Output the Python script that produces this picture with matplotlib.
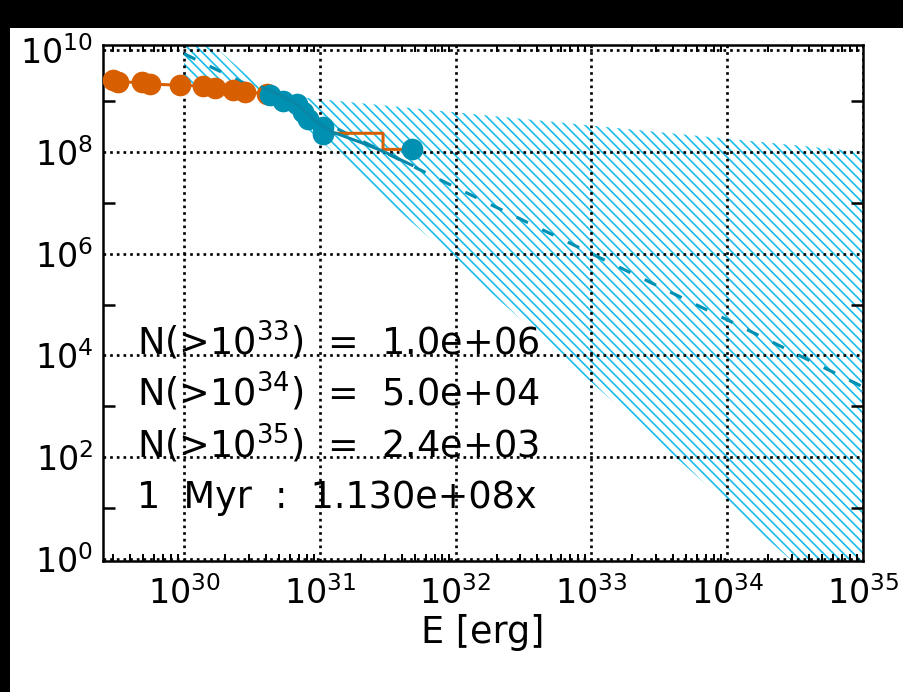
import numpy as np
import matplotlib
matplotlib.use("Agg")
import matplotlib.pyplot as plt
from matplotlib.ticker import FixedLocator, LogLocator, NullFormatter
from matplotlib.patches import Rectangle

plt.rcParams['font.family'] = ['DejaVu Sans']
plt.rcParams['mathtext.fontset'] = 'dejavusans'
plt.rcParams['hatch.linewidth'] = 1.0

# observed flares (orange) and fitted range (blue)
orange_E = [3.0e29, 3.27e29, 4.91e29, 5.62e29, 9.35e29, 1.38e30, 1.69e30, 2.29e30, 2.81e30, 4.08e30]
orange_N = [2.57e9, 2.34e9, 2.34e9, 2.14e9, 2.05e9, 1.95e9, 1.79e9, 1.63e9, 1.49e9, 1.40e9]

blue_E = [4.30e30, 5.36e30, 6.79e30, 7.52e30, 8.18e30, 1.06e31, 1.06e31, 4.78e31]
blue_N = [1.30e9, 9.9e8, 8.65e8, 6.0e8, 4.4e8, 3.05e8, 2.22e8, 1.12e8]

# cumulative histogram tail
step_E = [4.08e30, 1.06e31, 2.92e31, 2.92e31, 4.78e31]
step_N = [1.40e9, 2.32e8, 2.32e8, 1.12e8, 1.12e8]

# fit over blue points
fit_E = [3.75e30, 5.09e30, 6.79e30, 9.23e30, 1.25e31, 1.98e31, 2.92e31, 4.78e31]
fit_N = [1.87e9, 1.30e9, 8.65e8, 4.0e8, 2.43e8, 1.55e8, 1.03e8, 5.45e7]

# power-law extrapolation
pl_E = [1e30, 1e31, 1e32, 1e33, 1e34, 1e35]
pl_N = [8.5e9, 4.2e8, 2.0e7, 1.0e6, 5.0e4, 2.4e3]

# uncertainty band (two bounding power laws crossing at the pivot)
band_E = [1e30, 4.16e30, 1e35]
band_steep = [4.1e10, 1.36e9, 0.052]
band_flat = [1.98e9, 1.36e9, 1.0e8]

ann_lines = [r'N(>$\mathregular{10^{33}}$)  =  1.0e+06',
             r'N(>$\mathregular{10^{34}}$)  =  5.0e+04',
             r'N(>$\mathregular{10^{35}}$)  =  2.4e+03',
             '1  Myr  :  1.130e+08x']

orange = '#d75f00'
blue = '#0090b2'
hatch_c = '#17bde9'

dpi = 120
fig = plt.figure(figsize=(903 / dpi, 692 / dpi), dpi=dpi, facecolor='white')
ax = fig.add_axes([103 / 903, 1 - 561 / 692, 760 / 903, 516 / 692])

fig.patches.append(Rectangle((0, 0), 10 / 903, 1, transform=fig.transFigure,
                             facecolor='black', edgecolor='none', zorder=0))
fig.patches.append(Rectangle((0, 1 - 28 / 692), 1, 28 / 692, transform=fig.transFigure,
                             facecolor='black', edgecolor='none', zorder=0))

ax.set_xscale('log')
ax.set_yscale('log')
ax.set_xlim(2.53e29, 1e35)
ax.set_ylim(0.91, 1.26e10)

ax.fill_between(band_E, band_steep, band_flat, facecolor='none', edgecolor=hatch_c,
                hatch='\\\\\\\\', linewidth=0, zorder=1)

ax.plot(pl_E, pl_N, color=blue, lw=1.9, linestyle=(0, (4, 5)), zorder=3)
ax.plot(orange_E + step_E[1:], orange_N + step_N[1:], color=orange, lw=1.8, zorder=3)
ax.plot(orange_E, orange_N, 'o', color=orange, ms=13, mec='none', zorder=4)
ax.plot(blue_E, blue_N, 'o', color=blue, ms=13, mec='none', zorder=5)
ax.plot(fit_E, fit_N, color='#0a86a6', lw=1.8, zorder=6)

# axes styling, IDL-like
ax.xaxis.set_major_locator(FixedLocator([1e30, 1e31, 1e32, 1e33, 1e34, 1e35]))
ax.xaxis.set_minor_locator(LogLocator(base=10, subs=np.arange(2, 10), numticks=50))
ax.xaxis.set_minor_formatter(NullFormatter())
ax.set_xticklabels([r'$\mathregular{10^{%d}}$' % k for k in range(30, 36)])

ax.yaxis.set_major_locator(FixedLocator([10.0 ** k for k in range(0, 11, 2)]))
ax.yaxis.set_minor_locator(FixedLocator([10.0 ** k for k in range(1, 11, 2)]))
ax.yaxis.set_minor_formatter(NullFormatter())
ax.set_yticklabels([r'$\mathregular{10^{%d}}$' % k for k in range(0, 11, 2)])

ax.tick_params(which='major', length=0, labelsize=20, colors='black')
ax.tick_params(axis='x', which='major', pad=9)
ax.tick_params(axis='y', which='major', pad=6)
ax.tick_params(axis='x', which='minor', direction='in', length=4, width=1.2,
               top=True, bottom=True)
ax.tick_params(axis='y', which='minor', direction='in', length=7, width=1.5,
               left=True, right=True)

ax.grid(True, which='major', color='black', linestyle=(0, (1, 1.5)), linewidth=1.6)
for sp in ax.spines.values():
    sp.set_linewidth(1.5)

ax.set_xlabel('E [erg]', fontsize=22, labelpad=2)

ys = [0.426, 0.327, 0.226, 0.123]
for t, yy in zip(ann_lines, ys):
    ax.text(0.045, yy, t, transform=ax.transAxes, fontsize=22, va='center', ha='left',
            zorder=7)

fig.savefig('out.png', dpi=dpi, facecolor=fig.get_facecolor())
